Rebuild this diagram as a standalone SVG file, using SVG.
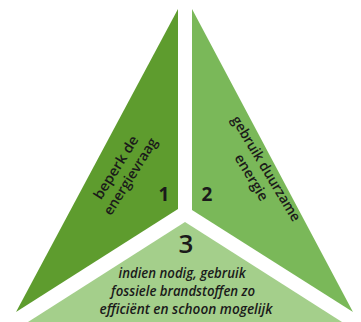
<svg xmlns="http://www.w3.org/2000/svg" width="361" height="322" viewBox="0 0 361 322">
<style>
.t{font-family:"Open Sans","Noto Sans",sans-serif;fill:#1a1a1a;text-anchor:middle}
.lbl{font-size:14px;font-weight:600}
.num{font-weight:700}
</style>
<rect width="361" height="322" fill="#ffffff"/>
<g id="node-1">
<polygon points="178,9 178,209 16,312" fill="#5e9c2e"/>
<text class="t lbl" transform="translate(120,170) rotate(-58)"><tspan x="0" y="0" textLength="72" lengthAdjust="spacingAndGlyphs">beperk de</tspan><tspan x="0" y="17" textLength="88" lengthAdjust="spacingAndGlyphs">energievraag</tspan></text>
<text class="t num" x="164" y="201" font-size="19">1</text>
</g>
<g id="node-2">
<polygon points="192,9 353,312 192,210" fill="#7ab859"/>
<text class="t lbl" transform="translate(262,171) rotate(59)"><tspan x="0" y="0" textLength="120" lengthAdjust="spacingAndGlyphs">gebruik duurzame</tspan><tspan x="0" y="17" textLength="52" lengthAdjust="spacingAndGlyphs">energie</tspan></text>
<text class="t num" x="207" y="201" font-size="19">2</text>
</g>
<g id="node-3">
<polygon points="185,222 342,322 28,322" fill="#a4cf8b"/>
<text class="t" x="186" y="253" font-size="26" font-weight="600">3</text>
<text class="t" font-size="14.5" font-weight="600" font-style="italic">
<tspan x="184" y="278" textLength="127" lengthAdjust="spacingAndGlyphs">indien nodig, gebruik</tspan>
<tspan x="185" y="296" textLength="144" lengthAdjust="spacingAndGlyphs">fossiele brandstoffen zo</tspan>
<tspan x="186" y="314" textLength="173" lengthAdjust="spacingAndGlyphs">efficiënt en schoon mogelijk</tspan>
</text>
</g>
<g id="connectors"></g>
</svg>
